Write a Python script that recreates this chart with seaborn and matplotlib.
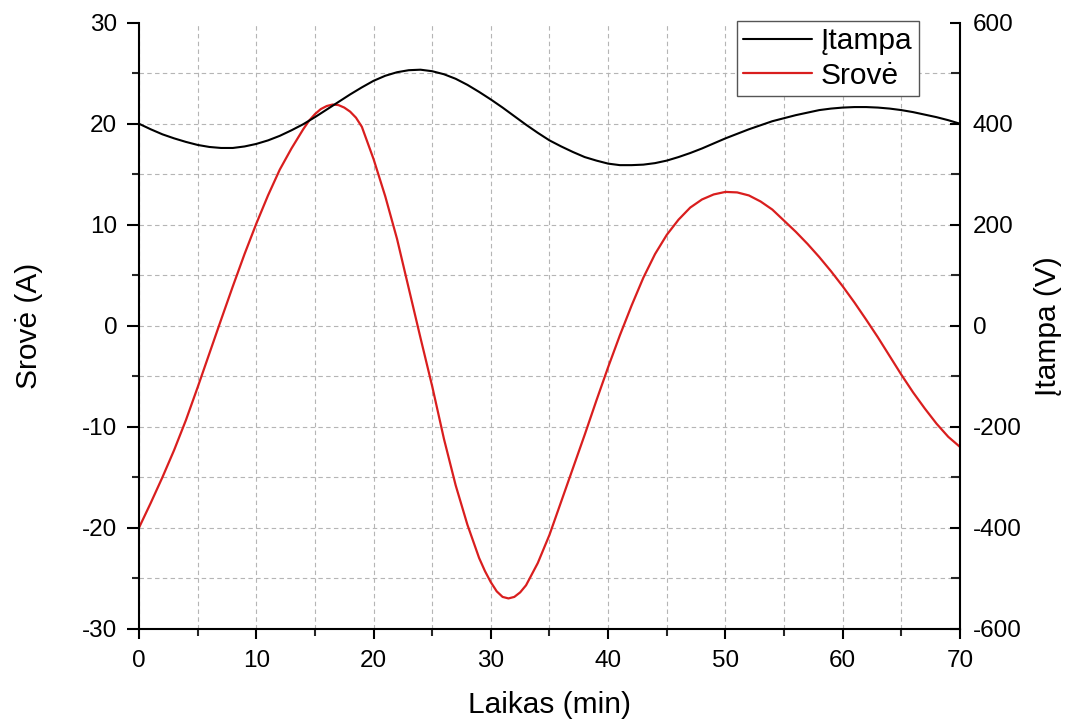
import numpy as np
import pandas as pd
import matplotlib
matplotlib.use("Agg")
import matplotlib.pyplot as plt
import seaborn as sns
from matplotlib.ticker import MultipleLocator

# ---- data ----
# current (A), sampled more densely around the turning points
time_cur = [0, 1, 2, 3, 4, 5, 6, 7, 8, 9, 10, 11, 12, 13, 14, 14.5, 15, 15.5,
            16, 16.5, 17, 17.5, 18, 18.5, 19, 20, 21, 22, 23, 24, 25, 26, 27,
            28, 29, 29.5, 30, 30.5, 31, 31.5, 32, 32.5, 33, 34, 35, 36, 37, 38,
            39, 40, 41, 42, 43, 44, 45, 46, 47, 48, 49, 50, 51, 52, 53, 54, 55,
            56, 57, 58, 59, 60, 61, 62, 63, 64, 65, 66, 67, 68, 69, 70]
current_a = [-20.0, -17.55, -15.0, -12.3, -9.35, -6.1, -2.75, 0.6, 3.9, 7.1,
             10.1, 12.9, 15.45, 17.55, 19.45, 20.3, 20.95, 21.45,
             21.75, 21.9, 21.85, 21.6, 21.2, 20.6, 19.7, 16.5, 12.8, 8.6, 3.7,
             -1.2, -6.0, -11.2, -15.8,
             -19.7, -23.0, -24.3, -25.4, -26.3, -26.85, -27.0, -26.85, -26.4,
             -25.7, -23.5, -20.7, -17.4, -14.1, -10.8,
             -7.4, -4.1, -0.95, 2.0, 4.75, 7.1, 9.0, 10.5, 11.7, 12.5, 13.0,
             13.25, 13.2, 12.9, 12.3, 11.5, 10.4,
             9.3, 8.1, 6.8, 5.4, 3.9, 2.3, 0.6, -1.15, -3.0, -4.85, -6.6, -8.2,
             -9.7, -11.0, -12.0]
# voltage (V), one reading per minute
time_volt = list(range(0, 71))
voltage_v = [400, 389, 379, 371, 364, 358, 354, 352, 352, 355,
             360, 367, 376, 387, 399, 413, 428, 443, 458, 472,
             485, 495, 502, 506, 507, 504, 498, 489, 477, 463,
             448, 432, 415, 398, 382, 367, 355, 344, 334, 327,
             321, 318, 318, 319, 322, 327, 334, 342, 351, 361,
             371, 380, 389, 397, 405, 411, 417, 422, 427, 430,
             432, 433, 433, 432, 430, 427, 423, 418, 413, 407,
             400]
series_names = ["Įtampa", "Srovė"]
x_label = "Laikas (min)"
y_left_label = "Srovė (A)"
y_right_label = "Įtampa (V)"

df_cur = pd.DataFrame({"Laikas": time_cur, "Srovė": current_a})
df_volt = pd.DataFrame({"Laikas": time_volt, "Įtampa": voltage_v})

sns.set_theme(style="white")
plt.rcParams['font.family'] = ['Liberation Sans', 'DejaVu Sans']
plt.rcParams['axes.unicode_minus'] = False

RED = "#d91e1e"
fig = plt.figure(figsize=(10.7, 7.24), dpi=100)
ax = fig.add_axes([0.1299, 0.1316, 0.7673, 0.837])
ax2 = ax.twinx()

sns.lineplot(data=df_cur, x="Laikas", y="Srovė", ax=ax, color=RED,
             linewidth=1.6, legend=False)
sns.lineplot(data=df_volt, x="Laikas", y="Įtampa", ax=ax2, color="black",
             linewidth=1.5, legend=False)

ax.set_xlim(0, 70)
ax.set_ylim(-30, 30)
ax2.set_ylim(-600, 600)
ax.xaxis.set_major_locator(MultipleLocator(10))
ax.xaxis.set_minor_locator(MultipleLocator(5))
ax.yaxis.set_major_locator(MultipleLocator(10))
ax.yaxis.set_minor_locator(MultipleLocator(5))
ax2.yaxis.set_major_locator(MultipleLocator(200))
ax2.yaxis.set_minor_locator(MultipleLocator(100))

# spines
for s in ["top", "right"]:
    ax.spines[s].set_visible(False)
for s in ["top", "left", "bottom"]:
    ax2.spines[s].set_visible(False)
for s in ["left", "bottom"]:
    ax.spines[s].set_linewidth(1.5)
    ax.spines[s].set_color("black")
ax2.spines["right"].set_linewidth(1.5)
ax2.spines["right"].set_color("black")

# ticks
ax.tick_params(axis='y', which='major', direction='out', length=8.6, width=1.5,
               labelsize=17.5, pad=7, colors='black', left=True)
ax.tick_params(axis='y', which='minor', direction='out', length=4.7, width=1.5,
               left=True)
ax.tick_params(axis='x', which='major', direction='out', length=7.2, width=1.5,
               labelsize=17.5, pad=8, colors='black', bottom=True)
ax.tick_params(axis='x', which='minor', direction='out', length=5, width=1.5,
               bottom=True)
ax2.tick_params(axis='y', which='major', direction='in', length=7.5, width=1.5,
                labelsize=17.5, pad=9, colors='black', right=True)
ax2.tick_params(axis='y', which='minor', direction='in', length=6.5, width=1.5,
                right=True)

# grid
ax.set_axisbelow(True)
ax.grid(True, which='both', axis='both', color='#b5b5b5',
        linestyle=(0, (4, 3)), linewidth=0.8)

ax.set_xlabel(x_label, fontsize=21.5, labelpad=14, color='black')
ax.set_ylabel(y_left_label, fontsize=21.5, labelpad=28, color='black')
ax2.set_ylabel(y_right_label, fontsize=21.5, labelpad=9, color='black')

# legend
h_volt = ax2.get_lines()[0]
h_cur = ax.get_lines()[0]
leg = ax2.legend([h_volt, h_cur], series_names, loc='upper right',
                 bbox_to_anchor=(0.8589, 0.9714), bbox_transform=fig.transFigure,
                 borderaxespad=0, fontsize=21.5, frameon=True, fancybox=False,
                 framealpha=1, edgecolor='#555555', handlelength=2.3,
                 handletextpad=0.3, labelspacing=0.22, borderpad=0.22,
                 labelcolor='black')
leg.get_frame().set_linewidth(1.0)

fig.canvas.draw()
for t in ax.yaxis.get_major_ticks():
    if abs(t.get_loc() - 30) < 1e-9:
        t.gridline.set_visible(False)

fig.savefig("out.png", dpi=100)
